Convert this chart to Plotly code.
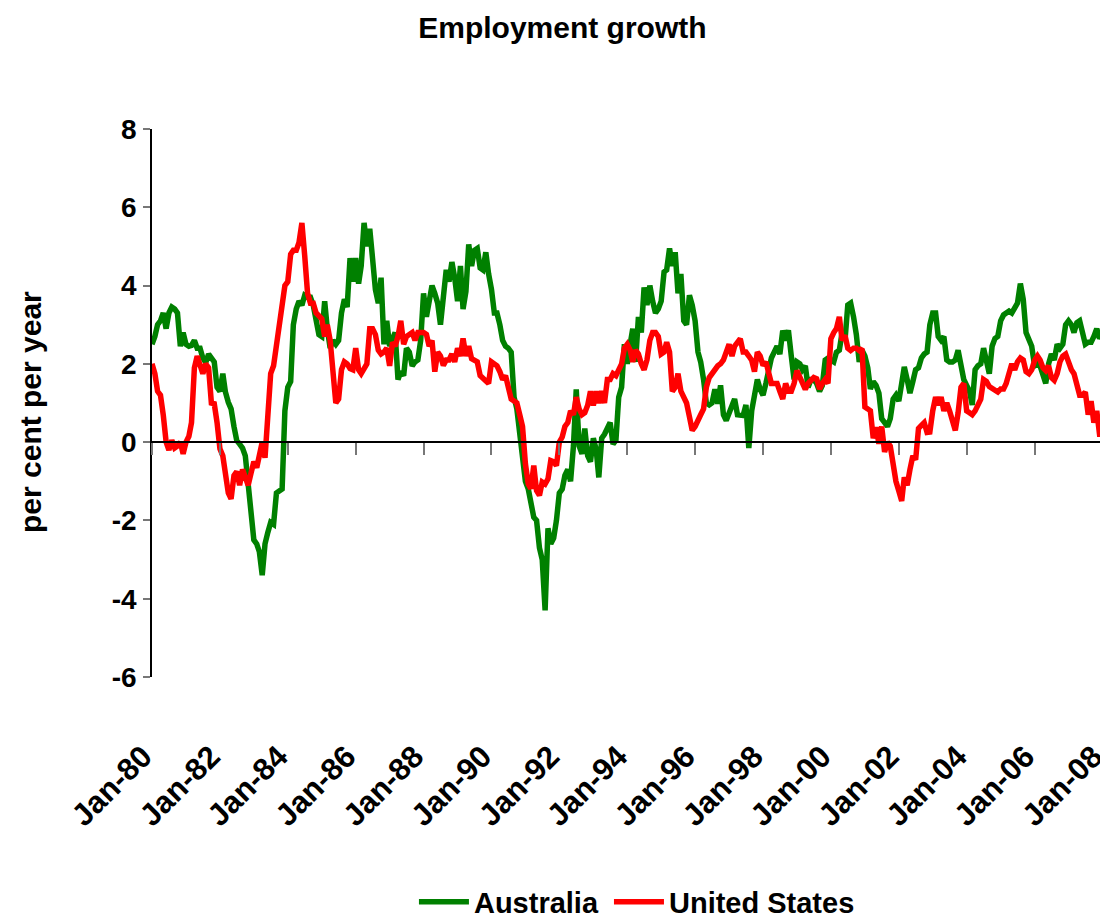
import pandas as pd
import plotly.graph_objects as go

# Monthly observations, Jan-1980 .. Mar-2008 (per cent per year)
months = pd.date_range("1980-01-01", periods=339, freq="MS")

australia = [
    2.5, 2.7, 3.0, 3.1, 3.3, 2.9, 3.3, 3.45, 3.4, 3.3, 2.45, 2.8,          # 1980
    2.5, 2.45, 2.47, 2.6, 2.4, 2.4, 2.15, 2.03, 2.25, 2.15, 2.05, 1.4,     # 1981
    1.3, 1.75, 1.28, 1.02, 0.85, 0.4, 0.04, -0.05, -0.15, -0.35, -1.1, -1.8,  # 1982
    -2.5, -2.6, -2.8, -3.4, -2.6, -2.3, -2.05, -2.1, -1.3, -1.25, -1.2, 0.8,  # 1983
    1.4, 1.55, 3.0, 3.4, 3.6, 3.5, 3.75, 3.7, 3.7, 3.5, 3.0, 2.75,        # 1984
    2.7, 3.6, 2.9, 2.4, 2.6, 2.5, 2.6, 3.3, 3.65, 3.45, 4.7, 4.1,         # 1985
    4.7, 4.05, 4.5, 5.6, 5.0, 5.45, 4.7, 3.9, 3.55, 4.2, 2.5, 3.1,        # 1986
    2.45, 2.6, 2.8, 1.6, 1.8, 1.7, 2.4, 2.3, 1.95, 2.05, 2.1, 2.6,        # 1987
    3.8, 3.2, 3.7, 4.0, 3.8, 3.55, 3.0, 3.6, 4.4, 4.1, 4.6, 4.2,          # 1988
    3.6, 4.5, 3.4, 3.85, 5.05, 4.5, 4.9, 4.95, 4.45, 4.4, 4.85, 4.3,      # 1989
    3.9, 3.3, 3.3, 3.0, 2.6, 2.45, 2.4, 2.3, 1.15, 0.85, 0.3, -0.3,       # 1990
    -1.0, -1.2, -1.5, -1.92, -2.0, -2.7, -3.0, -4.3, -2.2, -2.6, -2.45, -2.0,  # 1991
    -1.3, -1.2, -0.85, -0.7, -1.0, -0.1, 1.35, -0.1, -0.3, 0.35, -0.35, -0.5,  # 1992
    0.1, -0.2, -0.9, 0.1, 0.2, 0.4, 0.5, -0.05, 0.05, 1.15, 1.4, 2.5,     # 1993
    2.0, 2.5, 2.9, 2.05, 3.2, 2.8, 3.95, 3.5, 4.0, 3.6, 3.3, 3.4,         # 1994
    3.6, 4.35, 4.4, 4.95, 4.5, 4.85, 3.8, 4.3, 3.1, 3.0, 3.75, 3.5,       # 1995
    3.1, 2.3, 2.05, 1.6, 1.0, 0.95, 1.0, 1.35, 0.98, 1.45, 0.7, 0.55,     # 1996
    0.75, 0.9, 1.1, 0.7, 0.68, 0.68, 0.95, -0.15, 0.8, 1.2, 1.6, 1.35,    # 1997
    1.2, 1.5, 1.8, 2.15, 2.3, 2.45, 2.25, 2.85, 2.6, 2.86, 2.2, 1.6,      # 1998
    2.05, 2.0, 1.85, 1.95, 1.4, 1.6, 1.6, 1.5, 1.3, 1.45, 2.1, 2.15,      # 1999
    2.1, 2.05, 2.3, 2.35, 2.8, 2.6, 3.5, 3.55, 3.2, 2.75, 2.05, 2.35,     # 2000
    2.2, 1.9, 1.36, 1.55, 1.45, 1.25, 0.6, 0.5, 0.4, 0.6, 1.1, 1.2,       # 2001
    1.05, 1.5, 1.92, 1.6, 1.25, 1.55, 1.85, 1.9, 2.15, 2.25, 2.3, 3.0,    # 2002
    3.3, 3.3, 2.7, 2.6, 2.7, 2.1, 2.05, 2.05, 2.1, 2.35, 2.0, 1.6,        # 2003
    1.45, 1.3, 0.95, 1.85, 1.95, 2.0, 2.4, 2.1, 1.75, 2.45, 2.65, 2.7,    # 2004
    3.1, 3.25, 3.3, 3.35, 3.3, 3.4, 3.55, 4.05, 3.65, 2.8, 2.65, 2.45,    # 2005
    1.95, 2.0, 1.95, 1.7, 1.5, 2.0, 2.25, 2.1, 2.5, 2.4, 2.5, 3.0,        # 2006
    3.1, 3.0, 2.8, 3.05, 3.1, 2.8, 2.5, 2.55, 2.55, 2.7, 2.9, 2.65,       # 2007
    2.75, 2.95, 2.9,                                                       # 2008
]

united_states = [
    2.0, 1.75, 1.3, 1.2, 0.7, 0.0, -0.2, 0.05, -0.15, -0.1, 0.0, -0.3,    # 1980
    0.0, 0.15, 0.5, 1.9, 2.2, 1.9, 1.75, 2.0, 1.9, 1.0, 0.98, 0.5,        # 1981
    -0.17, -0.35, -0.8, -1.3, -1.45, -0.85, -0.75, -1.1, -0.7, -0.9, -1.1, -0.8,  # 1982
    -0.5, -0.65, -0.4, 0.0, -0.4, 1.0, 1.75, 1.95, 2.5, 2.8, 3.6, 4.0,    # 1983
    4.1, 4.8, 4.9, 4.9, 5.1, 5.6, 4.77, 3.8, 3.55, 3.55, 3.3, 3.2,        # 1984
    3.15, 2.7, 3.0, 2.6, 1.9, 1.0, 1.1, 1.85, 2.05, 2.0, 1.88, 1.85,      # 1985
    2.4, 1.85, 1.75, 1.9, 2.0, 2.9, 2.9, 2.75, 2.35, 2.25, 2.3, 2.4,      # 1986
    1.95, 2.55, 2.45, 2.7, 3.1, 2.5, 2.7, 2.75, 2.8, 2.6, 2.8, 2.8,       # 1987
    2.8, 2.75, 2.45, 2.6, 1.8, 2.3, 2.2, 1.96, 2.1, 2.1, 2.25, 2.05,      # 1988
    2.4, 2.2, 2.65, 2.2, 2.45, 2.13, 2.1, 2.05, 1.7, 1.62, 1.55, 1.5,     # 1989
    2.05, 2.0, 1.95, 1.8, 1.6, 1.7, 1.4, 1.1, 1.05, 1.0, 0.7, 0.4,        # 1990
    -0.55, -1.07, -1.19, -0.6, -1.24, -1.36, -1.02, -1.07, -0.94, -0.47, -0.5, -0.6,  # 1991
    0.0, 0.13, 0.4, 0.5, 0.8, 0.7, 1.15, 0.85, 0.7, 0.75, 0.94, 1.3,      # 1992
    0.94, 1.3, 1.0, 1.3, 1.0, 1.6, 1.6, 1.75, 1.7, 1.85, 2.0, 2.4,        # 1993
    2.5, 2.35, 2.05, 2.35, 2.25, 2.0, 1.85, 2.1, 2.6, 2.8, 2.8, 2.7,      # 1994
    2.25, 2.3, 2.55, 2.3, 1.3, 1.4, 1.75, 1.3, 1.15, 1.0, 0.65, 0.3,      # 1995
    0.4, 0.6, 0.7, 0.85, 1.4, 1.65, 1.75, 1.9, 1.95, 2.0, 2.1, 2.3,       # 1996
    2.5, 2.2, 2.45, 2.55, 2.64, 2.3, 2.3, 2.2, 2.09, 1.8, 2.3, 2.2,       # 1997
    1.96, 2.05, 1.7, 1.5, 1.5, 1.5, 1.3, 1.1, 1.5, 1.3, 1.3, 1.5,         # 1998
    1.83, 1.65, 1.55, 1.35, 1.5, 1.6, 1.65, 1.62, 1.36, 1.5, 1.6, 1.5,    # 1999
    2.64, 2.8, 2.9, 3.2, 2.6, 2.73, 2.4, 2.34, 2.4, 2.4, 2.34, 2.39,      # 2000
    0.9, 0.85, 0.8, 0.1, 0.38, -0.04, 0.4, -0.25, 0.0, -0.1, -0.6, -1.0,  # 2001
    -1.25, -1.5, -0.9, -1.1, -0.7, -0.35, -0.45, 0.35, 0.43, 0.5, 0.25, 0.26,  # 2002
    0.8, 1.15, 0.95, 1.15, 0.8, 1.0, 0.8, 0.55, 0.3, 0.75, 1.4, 1.5,      # 2003
    0.8, 0.75, 0.7, 0.8, 0.95, 1.1, 1.6, 1.55, 1.42, 1.38, 1.3, 1.28,     # 2004
    1.36, 1.36, 1.5, 1.75, 2.0, 1.85, 2.05, 2.15, 2.1, 1.8, 1.75, 1.85,   # 2005
    2.09, 2.2, 2.1, 1.9, 1.83, 1.95, 1.65, 1.58, 1.75, 2.05, 2.2, 2.25,   # 2006
    2.0, 1.85, 1.75, 1.4, 1.2, 1.2, 1.28, 0.7, 1.05, 0.5, 0.8, 0.2,       # 2007
    0.2, 0.0, -0.2,                                                        # 2008
]

y_tick_values = [-6, -4, -2, 0, 2, 4, 6, 8]
y_tick_labels = ["-6", "-4", "-2", "0", "2", "4", "6", "8"]

assert len(australia) == len(months) == len(united_states)

FONT = "Liberation Sans, Arial, sans-serif"
x_range = ["1980-01-01", "2008-03-01"]
legend_font = dict(family=FONT, size=29, weight="bold", color="black")

# The page body has an 8 px default margin, so the figure is drawn 8 px
# smaller and everything is laid out relative to that offset.
fig = go.Figure()
fig.add_trace(go.Scatter(
    x=months, y=australia, name="Australia", mode="lines",
    line=dict(color="#008000", width=5.5), xaxis="x", yaxis="y",
    legend="legend", showlegend=True))
fig.add_trace(go.Scatter(
    x=months, y=united_states, name="United States", mode="lines",
    line=dict(color="#FF0000", width=5.5), xaxis="x2", yaxis="y",
    legend="legend2", showlegend=True))

fig.update_layout(
    width=1100, height=912,
    showlegend=True,
    margin=dict(l=144, r=0, t=121, b=243, autoexpand=False),
    paper_bgcolor="white", plot_bgcolor="white",
    font=dict(family=FONT, color="black", size=29, weight="bold"),
    title=dict(text="Employment growth", x=0.504, xref="container",
               xanchor="center", y=0.979, yref="container", yanchor="middle",
               font=dict(family=FONT, size=30, weight="bold", color="black")),
    xaxis=dict(type="date", range=x_range, tickformat="%b-%y",
               dtick="M24", tick0="1980-01-01", tickangle=-45,
               showline=False, showgrid=False, zeroline=False, ticks="",
               ticklabelstandoff=54, ticklabelshift=-9, automargin=False,
               ticklabeloverflow="allow",
               tickfont=dict(family=FONT, size=31, weight="bold", color="black")),
    xaxis2=dict(type="date", range=x_range, overlaying="x", anchor="free",
                position=6 / 14, side="bottom", dtick="M24", tick0="1980-01-01",
                showline=True, linecolor="black", linewidth=1.5,
                ticks="outside", ticklen=12, tickwidth=1.5, tickcolor="#777777",
                showticklabels=False, showgrid=False, zeroline=False,
                automargin=False),
    yaxis=dict(range=[-6, 8], tickvals=y_tick_values, ticktext=y_tick_labels,
               showline=True, linecolor="black", linewidth=1.5,
               ticks="outside", ticklen=7, tickwidth=1.5, tickcolor="#777777",
               showgrid=False, zeroline=False, automargin=False,
               ticklabelstandoff=1,
               tickfont=dict(family=FONT, size=28, weight="bold", color="black")),
    legend=dict(orientation="h", x=0.274, xanchor="left", y=-0.4106,
                yanchor="middle", bgcolor="rgba(0,0,0,0)", itemwidth=50,
                visible=True, font=legend_font),
    legend2=dict(orientation="h", x=0.478, xanchor="left", y=-0.4106,
                 yanchor="middle", bgcolor="rgba(0,0,0,0)", itemwidth=50,
                 visible=True, font=legend_font),
    annotations=[dict(text="per cent per year", textangle=-90,
                      xref="paper", yref="paper", x=(30 - 152) / 956,
                      y=(677 - 412) / 548, xanchor="center", yanchor="middle",
                      showarrow=False,
                      font=dict(family=FONT, size=30, weight="bold", color="black"))],
)

fig.write_html("out.html")
